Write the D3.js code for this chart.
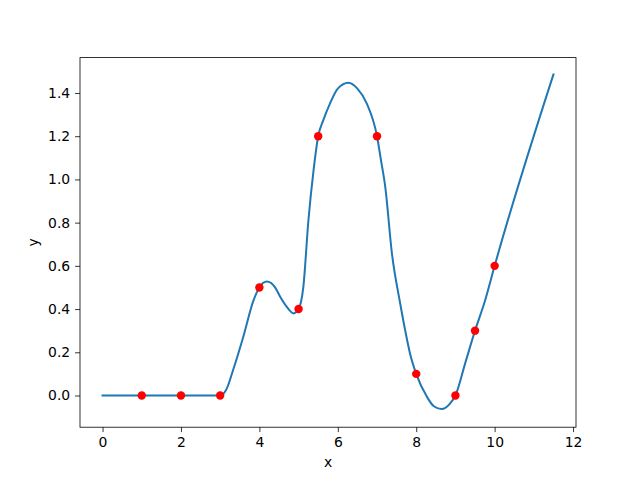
<!DOCTYPE html>
<html><head><meta charset="utf-8">
<script src="https://cdn.jsdelivr.net/npm/d3@7"></script>
<style>body{margin:0;background:#fff}svg{display:block}text{font-family:"DejaVu Sans",sans-serif}</style>
</head><body>
<svg id="c" width="640" height="480"></svg>
<script>
const pointX = [1, 2, 3, 4, 5, 5.5, 7, 8, 9, 9.5, 10];
const pointY = [0, 0, 0, 0.5, 0.4, 1.2, 1.2, 0.1, 0, 0.3, 0.6];
const curveX = [0, 1, 2, 3, 3.15, 3.33, 3.59, 3.85, 4, 4.19, 4.4, 4.53, 4.7, 4.87, 5, 5.12, 5.25, 5.38, 5.5, 5.63, 5.8, 6.0, 6.27, 6.5, 6.74, 7, 7.1, 7.21, 7.38, 7.59, 7.72, 7.84, 8, 8.27, 8.45, 8.65, 8.85, 9, 9.25, 9.5, 9.76, 10, 11.5];
const curveY = [0, 0, 0, 0, 0.025, 0.118, 0.272, 0.44, 0.5, 0.527, 0.5, 0.457, 0.41, 0.38, 0.4, 0.5, 0.81, 1.04, 1.2, 1.274, 1.351, 1.42, 1.447, 1.42, 1.351, 1.2, 1.09, 0.966, 0.658, 0.427, 0.3, 0.196, 0.1, -0.005, -0.05, -0.063, -0.04, 0, 0.15, 0.3, 0.442, 0.6, 1.486];
const xTicks = [0, 2, 4, 6, 8, 10, 12];
const yTicks = [0.0, 0.2, 0.4, 0.6, 0.8, 1.0, 1.2, 1.4];

const svg = d3.select("#c");
const L = 80, R = 576, T = 57.6, B = 427.2;
const x = d3.scaleLinear().domain([-0.575, 12.075]).range([L, R]);
const y = d3.scaleLinear().domain([-0.1467, 1.5637]).range([B, T]);

const line = d3.line().x(d => x(d[0])).y(d => y(d[1])).curve(d3.curveMonotoneX);
svg.append("path").datum(curveX.map((v, i) => [v, curveY[i]]))
  .attr("d", line).attr("fill", "none").attr("stroke", "#1f77b4").attr("stroke-width", 2)
  .attr("stroke-linecap", "square");

svg.append("g").selectAll("circle").data(pointX).join("circle")
  .attr("cx", (d) => x(d)).attr("cy", (d, i) => y(pointY[i])).attr("r", 4.2).attr("fill", "red");

const xa = svg.append("g").attr("transform", `translate(0,${B})`)
  .call(d3.axisBottom(x).tickValues(xTicks).tickFormat(d3.format("d")).tickSize(4.9).tickPadding(4.9));
const ya = svg.append("g").attr("transform", `translate(${L},0)`)
  .call(d3.axisLeft(y).tickValues(yTicks).tickFormat(d3.format(".1f")).tickSize(4.9).tickPadding(4.9));
[xa, ya].forEach(a => {
  a.select(".domain").remove();
  a.selectAll("line").attr("stroke", "#000").attr("stroke-width", 0.8);
  a.selectAll("text").attr("font-size", "13.9px").attr("fill", "#000").attr("font-family", "DejaVu Sans");
});
svg.append("rect").attr("x", L).attr("y", T).attr("width", R - L).attr("height", B - T)
  .attr("fill", "none").attr("stroke", "#000").attr("stroke-width", 0.8);

svg.append("text").attr("x", (L + R) / 2).attr("y", 467).attr("text-anchor", "middle")
  .attr("font-size", "13.9px").text("x");
svg.append("text").attr("transform", `translate(38,${(T + B) / 2}) rotate(-90)`).attr("text-anchor", "middle")
  .attr("font-size", "13.9px").text("y");
</script>
</body></html>
